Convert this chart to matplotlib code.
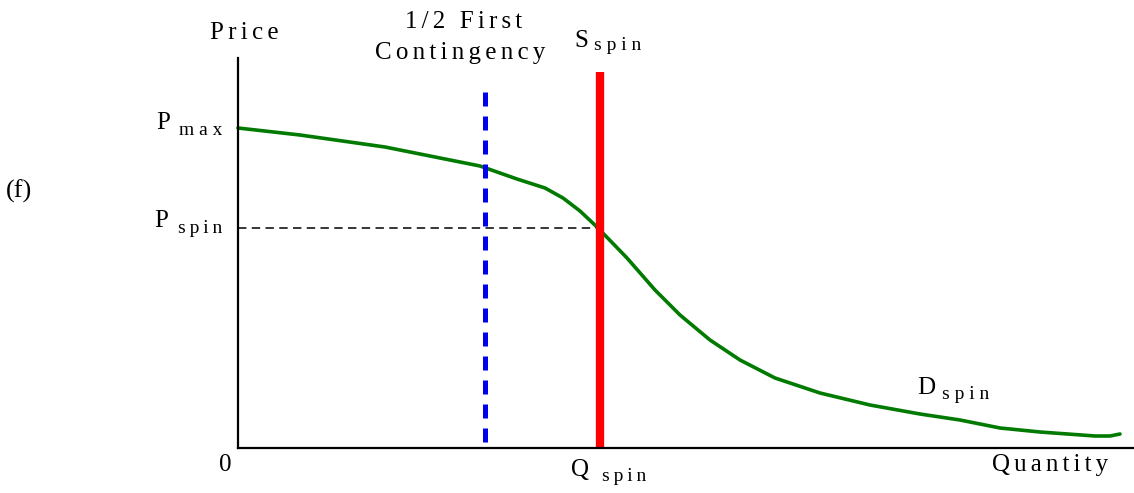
import matplotlib
matplotlib.use("Agg")
import matplotlib.pyplot as plt
import itertools

plt.rcParams['font.family'] = ['Liberation Serif', 'DejaVu Serif']

# Demand curve (quantity, price) in chart units
demand_q = [0, 62, 147, 192, 242, 279, 307, 325, 342, 359, 389, 417, 442, 472, 502, 537,
            582, 632, 682, 722, 762, 802, 857, 872, 882]
demand_p = [320, 313, 301, 292, 282, 269, 260, 250, 237, 221, 190, 158, 133, 108, 88, 70,
            55, 43, 34, 28, 20, 16, 12, 12, 14]
half_contingency_q = 247
half_contingency_top = 356
s_spin_q = 362
s_spin_top = 376
p_spin = 220
x_max = 896
y_max = 390

W, H = 1134, 493
fig = plt.figure(figsize=(W / 100, H / 100), dpi=100)
ax = fig.add_axes([238 / W, (H - 448) / H, (W - 238) / W, (448 - 58) / H])
ax.set_xlim(0, x_max)
ax.set_ylim(0, y_max)
for s in ['top', 'right']:
    ax.spines[s].set_visible(False)
for s in ['left', 'bottom']:
    ax.spines[s].set_linewidth(1.6)
ax.set_xticks([])
ax.set_yticks([])
ax.patch.set_alpha(0)

ax.plot(demand_q, demand_p, color='#007a00', lw=2.6, solid_capstyle='round',
        solid_joinstyle='round', clip_on=False)
ax.plot([0, s_spin_q], [p_spin, p_spin], color='black', lw=1.1, dashes=(5.5, 3.5))
ax.plot([half_contingency_q, half_contingency_q], [half_contingency_top, 0], color='#0000ee',
        lw=3.6, dashes=(2.8, 2.0))
ax.plot([s_spin_q, s_spin_q], [0, s_spin_top], color='#ff0000', lw=6.0, solid_capstyle='butt')

fig.canvas.draw()
renderer = fig.canvas.get_renderer()


def text_width(s, size):
    t = fig.text(0, 0, s, fontsize=size)
    w = t.get_window_extent(renderer).width
    t.remove()
    return w


SPACES = ['\u200a', '\u2009', '\u2006', '\u2005', '\u2004', '\u2002']


def spaced(s, size, target_w):
    if len(s) < 2:
        return s
    base = text_width(s, size)
    need = (target_w - base) / (len(s) - 1)
    if need <= 0:
        return s
    cands = [''] + SPACES + [a + b for a, b in itertools.combinations_with_replacement(SPACES, 2)]
    ref = text_width('xx', size)
    widths = {c: text_width('x' + c + 'x', size) - ref for c in cands}
    best = min(cands, key=lambda c: abs(widths[c] - need))
    return best.join(s)


def label(x, y, s, size=18, target_w=None):
    txt = spaced(s, size, target_w) if target_w else s
    fig.text(x / W, 1 - y / H, txt, fontsize=size, ha='left', va='baseline', color='black')


label(210, 39, 'Price', 18, 70)
label(405, 28, '1/2 First', 18, 113)
label(375, 59, 'Contingency', 18, 172)
label(992, 471, 'Quantity', 18, 116)
label(6, 198, '(f)', 19)
label(219, 471, '0', 18)

label(574, 47, 'S', 18)
label(594, 50, 'spin', 14, 47)
label(156, 129, 'P', 18)
label(179, 135, 'max', 14, 44)
label(154, 227, 'P', 18)
label(178, 233, 'spin', 14, 45)
label(571, 476, 'Q', 18)
label(602, 481, 'spin', 14, 45)
label(917, 394, 'D', 18)
label(942, 399, 'spin', 14, 48)

fig.savefig('out.png', dpi=100)
